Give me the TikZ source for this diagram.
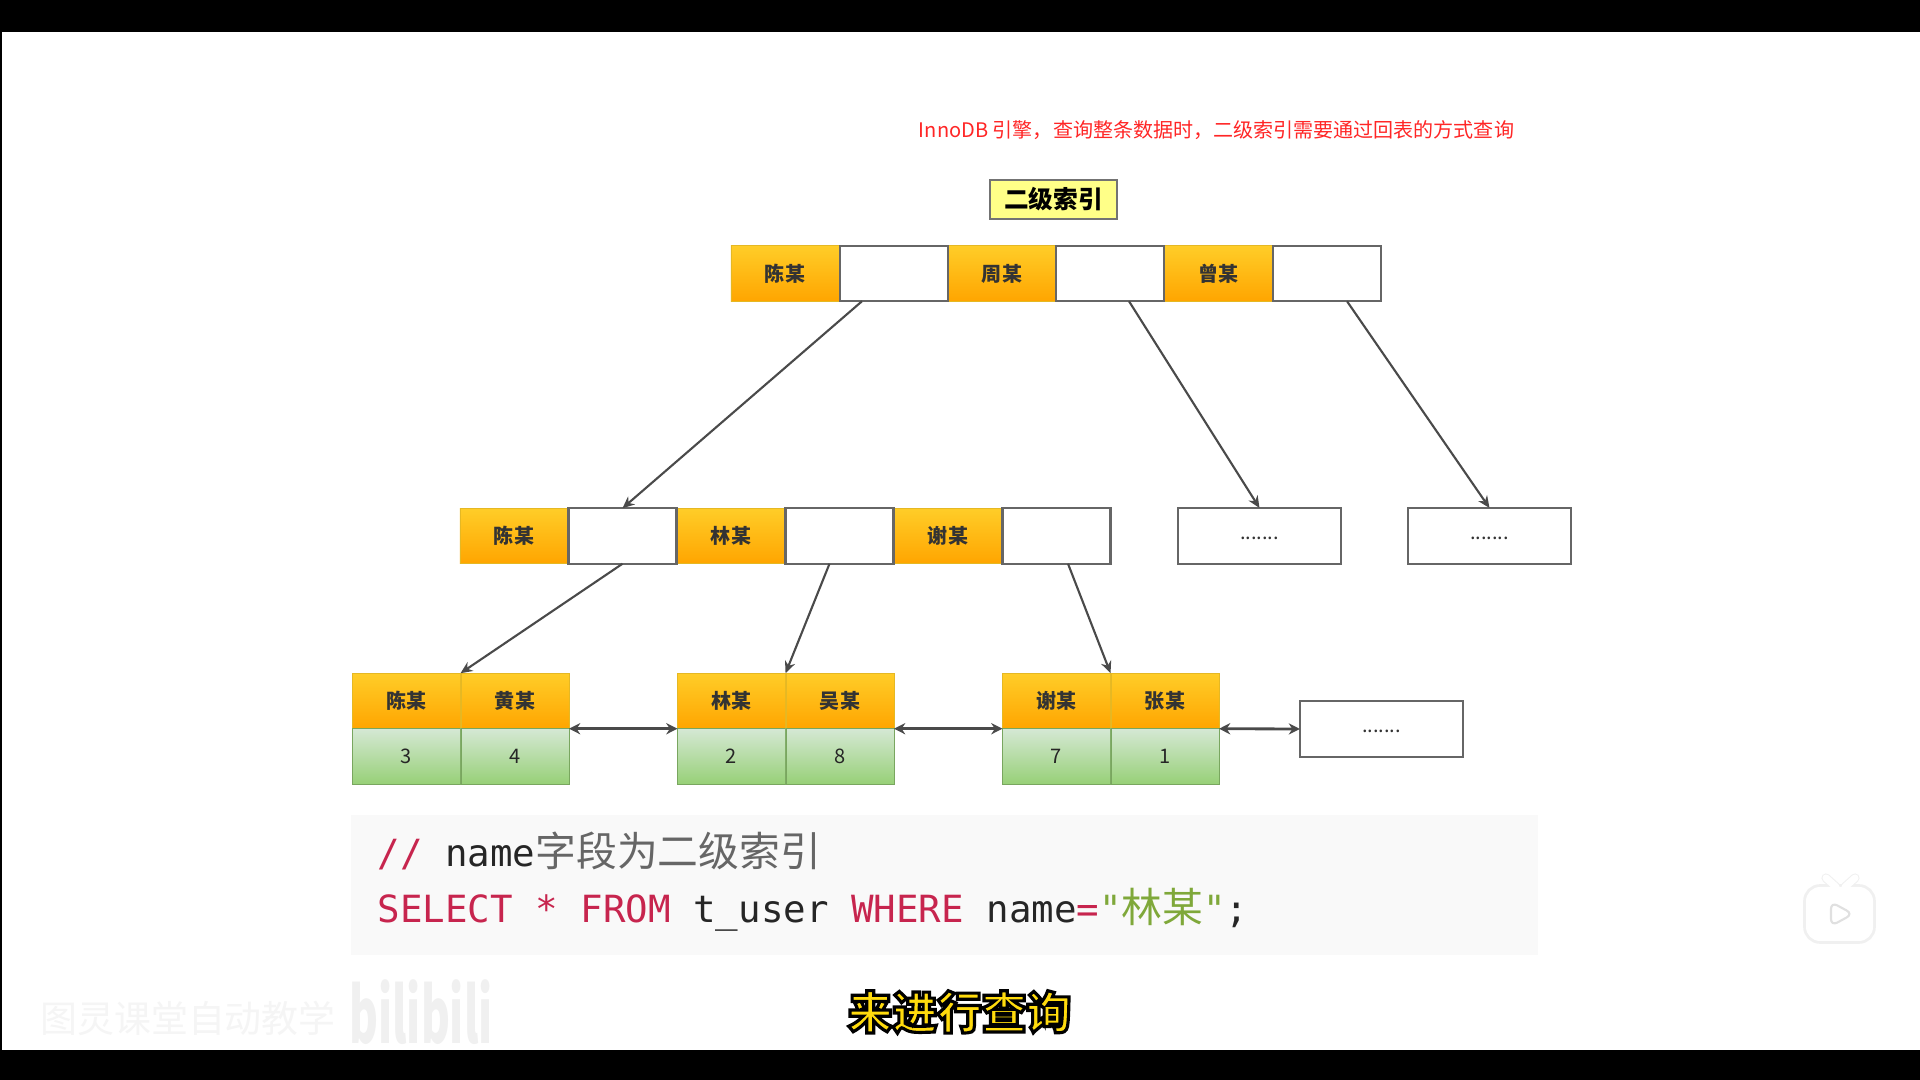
\documentclass[tikz,border=0pt]{standalone}
\usepackage{fontspec}
\setmainfont{Noto Sans CJK SC}
\setmonofont{DejaVu Sans Mono}
\newfontfamily\cjk{Noto Sans CJK SC}
\usetikzlibrary{arrows.meta}
\definecolor{orangeTop}{HTML}{FFCD28}
\definecolor{orangeBot}{HTML}{FFA500}
\definecolor{greenTop}{HTML}{D5E8D4}
\definecolor{greenBot}{HTML}{97D077}
\definecolor{noteYellow}{HTML}{FFFF88}
\definecolor{kwRed}{HTML}{C7254E}
\definecolor{strGreen}{HTML}{7FA83A}
\definecolor{lineGray}{HTML}{4A4A4A}
\newcommand{\kw}[1]{\textcolor{kwRed}{#1}}
\newcommand{\han}[1]{{\cjk\fontsize{11.6pt}{12pt}\selectfont #1}}
\newcommand{\dotrow}{\raisebox{-0.04cm}[0.06cm][0.06cm]{\mdseries .......}}
\tikzset{
    cell/.style={rectangle, minimum width=1.08cm, minimum height=0.555cm, inner sep=0pt, outer sep=0pt,
        font=\bfseries\fontsize{5.7pt}{6pt}\selectfont, text=black!80},
    keycell/.style={cell, draw=orangeTop!90!black, line width=0.2pt, top color=orangeTop, bottom color=orangeBot},
    ptrcell/.style={cell, draw=black!60, line width=0.65pt, fill=white},
    valcell/.style={cell, draw=greenBot!80!black, line width=0.2pt, top color=greenTop, bottom color=greenBot,
        font=\fontsize{5.7pt}{6pt}\selectfont, text=black!85},
    dotsbox/.style={cell, draw=black!60, line width=0.65pt, fill=white, minimum width=1.63cm, minimum height=0.56cm},
    link/.style={draw=lineGray, line width=0.6pt, -{Stealth[length=3.4pt,width=3pt]}},
    sibling/.style={draw=lineGray, line width=0.8pt, {Stealth[length=3.2pt,width=3.2pt]}-{Stealth[length=3.2pt,width=3.2pt]}},
    codeline/.style={anchor=west, inner sep=0pt, font=\ttfamily\fontsize{10.65pt}{12pt}\selectfont, text=black!85}
}
\begin{document}
\begin{tikzpicture}[x=0.01cm, y=-0.01cm]
    \useasboundingbox (0,0) rectangle (1920,1080);

    % video frame
    \fill[white] (0,0) rectangle (1920,1080);
    \fill[black] (0,0) rectangle (1920,32);
    \fill[black] (0,1050) rectangle (1920,1080);
    \fill[black] (0,32) rectangle (2,1050);

    % heading
    \node[text=red!85!white, inner sep=0pt, font=\fontsize{5.7pt}{6pt}\selectfont] (note) at (1216.5,130)
        {InnoDB 引擎，查询整条数据时，二级索引需要通过回表的方式查询};
    \node[cell, draw=black!55, line width=0.5pt, fill=noteYellow, minimum width=1.27cm, minimum height=0.39cm,
        font=\bfseries\fontsize{7pt}{8pt}\selectfont, text=black] (title) at (1053.5,199.5) {二级索引};

    % top level
    \foreach \i/\x/\t in {1/785/陈某, 3/1002/周某, 5/1218.5/曾某}
        \node[keycell] (top\i) at (\x,273.5) {\t};
    \foreach \i/\x in {2/894, 4/1110, 6/1327}
        \node[ptrcell] (top\i) at (\x,273.5) {};

    % middle level
    \foreach \i/\x/\t in {1/514/陈某, 3/731/林某, 5/948/谢某}
        \node[keycell] (mid\i) at (\x,536) {\t};
    \foreach \i/\x in {2/622.5, 4/839.5, 6/1056.5}
        \node[ptrcell] (mid\i) at (\x,536) {};
    \node[dotsbox] (dotsA) at (1259.5,536) {\dotrow};
    \node[dotsbox] (dotsB) at (1489.5,536) {\dotrow};

    % leaves
    \foreach \i/\x/\t/\v in {1/406.5/陈某/3, 2/515/黄某/4, 3/731.5/林某/2, 4/840/吴某/8, 5/1056.5/谢某/7, 6/1165/张某/1} {
        \node[keycell] (leaf\i) at (\x,701) {\t};
        \node[valcell] (val\i) at (\x,756.5) {\v};
    }
    \node[dotsbox] (dotsC) at (1381.5,729) {\dotrow};

    % pointers
    \draw[link] ([xshift=-0.32cm]top2.south) -- (mid2.north);
    \draw[link] ([xshift=0.19cm]top4.south) -- (dotsA.north);
    \draw[link] ([xshift=0.2cm]top6.south) -- (dotsB.north);
    \draw[link] (mid2.south) -- (leaf1.north east);
    \draw[link] ([xshift=-0.1cm]mid4.south) -- (leaf3.north east);
    \draw[link] ([xshift=0.115cm]mid6.south) -- (leaf5.north east);
    \draw[sibling] (val2.north east) -- (val3.north west);
    \draw[sibling] (val4.north east) -- (val5.north west);
    \draw[sibling] (val6.north east) -- (dotsC.west);

    % code
    \fill[black!2.5] (351,815) rectangle (1538,955);
    \node[codeline] (comment) at (377,851) {\kw{//} name\textcolor{black!60}{\han{字段为二级索引}}};
    \node[codeline] (query) at (377,910) {\kw{SELECT * FROM} t\_user \kw{WHERE} name\kw{=}\textcolor{strGreen}{"\han{林某}"};};

    % subtitle
    \node[inner sep=0pt, font=\bfseries\fontsize{12.7pt}{14pt}\selectfont] (subtitle) at (959.5,1012)
        {\special{pdf:code q 2 Tr 0.9 w 0 0 0 RG 1 0.86 0.05 rg}来进行查询\special{pdf:code Q}};

    % watermark
    \node[inner sep=0pt, text=black!4, font=\fontsize{10.5pt}{12pt}\selectfont] (mark) at (188,1018) {图灵课堂自动教学};
    \node[inner sep=0pt, text=black!6, yscale=1.75, font=\bfseries\fontsize{12.5pt}{14pt}\selectfont] (logo) at (421,1012) {bilibili};

    % play badge
    \draw[black!6, line width=1.6pt, rounded corners=4pt] (1806,887) rectangle (1873,941);
    \draw[black!6, line width=2.6pt, line cap=round] (1826,878) -- (1836,887);
    \draw[black!6, line width=2.6pt, line cap=round] (1855,878) -- (1845,887);
    \draw[white, line width=2pt, line cap=round] (1826,878) -- (1836,887);
    \draw[white, line width=2pt, line cap=round] (1855,878) -- (1845,887);
    \fill[white, rounded corners=4pt] (1806,887) rectangle (1873,941);
    \draw[black!12, line width=0.6pt, fill=white, rounded corners=2pt] (1831,902) -- (1853,914) -- (1831,926) -- cycle;
\end{tikzpicture}
\end{document}
